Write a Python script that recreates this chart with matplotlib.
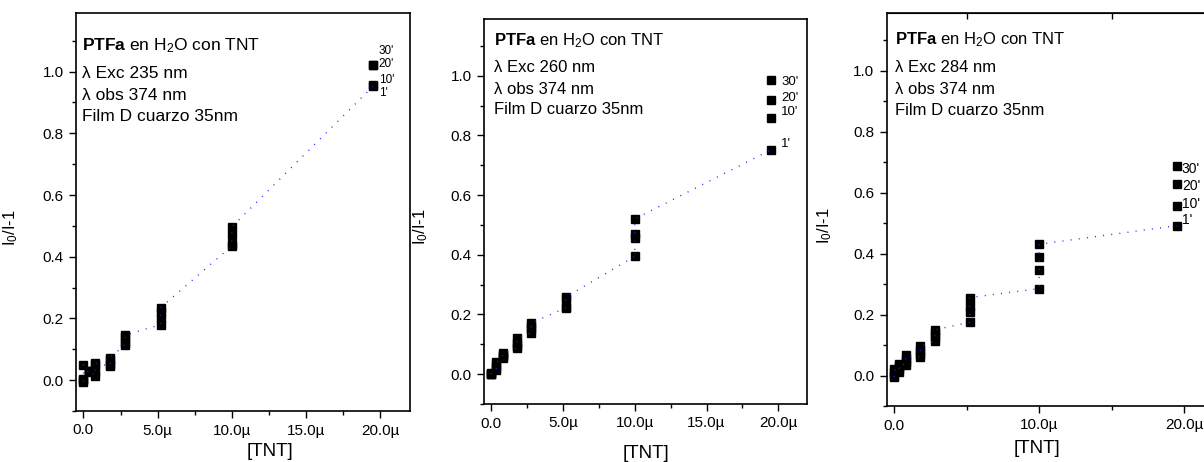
import numpy as np
import matplotlib
matplotlib.use("Agg")
import matplotlib.pyplot as plt
from matplotlib.ticker import FuncFormatter, MultipleLocator

plt.rcParams['font.family'] = ['Liberation Sans', 'DejaVu Sans']
plt.rcParams['mathtext.fontset'] = 'custom'
plt.rcParams['mathtext.rm'] = 'Liberation Sans'
plt.rcParams['mathtext.it'] = 'Liberation Sans:italic'
plt.rcParams['mathtext.bf'] = 'Liberation Sans:bold'

# [TNT] in micromolar
tnt = [0, 0.35, 0.8, 1.8, 2.8, 5.2, 10, 19.5]
times = ["1'", "10'", "20'", "30'"]

# lambda exc 235 nm
exc235_1 = [-0.005, 0.025, 0.015, 0.045, 0.115, 0.18, 0.435, 0.952]
exc235_10 = [0.0, 0.03, 0.025, 0.05, 0.12, 0.20, 0.44, 0.957]
exc235_20 = [0.005, 0.03, 0.05, 0.065, 0.14, 0.22, 0.47, 1.02]
exc235_30 = [0.05, 0.03, 0.055, 0.073, 0.146, 0.235, 0.497, 1.022]

# lambda exc 260 nm
exc260_1 = [0.0, 0.013, 0.054, 0.087, 0.139, 0.222, 0.395, 0.752]
exc260_10 = [0.0, 0.02, 0.06, 0.095, 0.15, 0.225, 0.455, 0.857]
exc260_20 = [0.002, 0.03, 0.065, 0.105, 0.16, 0.252, 0.47, 0.919]
exc260_30 = [0.005, 0.04, 0.071, 0.12, 0.172, 0.258, 0.52, 0.987]

# lambda exc 284 nm
exc284_1 = [-0.005, 0.012, 0.036, 0.06, 0.115, 0.175, 0.285, 0.492]
exc284_10 = [0.0, 0.02, 0.045, 0.07, 0.125, 0.21, 0.347, 0.557]
exc284_20 = [0.01, 0.03, 0.055, 0.085, 0.14, 0.228, 0.39, 0.63]
exc284_30 = [0.02, 0.037, 0.066, 0.096, 0.15, 0.256, 0.431, 0.689]


def fmt_tnt(v, pos):
    if abs(v) < 1e-9:
        return "0.0"
    return "%.1fµ" % v


def panel(ax, series, exc, major, label_off, xlab_pos, ylab_pos, text_y,
          ms=6, fs=12.5, lfs=8.5):
    for s in series:
        ax.plot(tnt, s, ls='none', marker='s', ms=ms, color='black',
                zorder=2)

    # dotted line running through every point, ordered by [TNT]
    vals = np.array(series)
    lx = list(np.repeat(tnt[:-1], 4)) + [tnt[-1]]
    ly = list(vals[:, :-1].T.ravel()) + [vals[0, -1]]
    ax.plot(lx, ly, color='#2020ff', lw=1.0, dashes=[0.7, 5.2], zorder=3)

    for t, s, (dx, dy) in zip(times, series, label_off):
        ax.annotate(t, (tnt[-1], s[-1]), xytext=(dx, dy),
                    textcoords='offset pixels', ha='left', va='center',
                    fontsize=lfs)

    ax.set_xlim(-0.5, 22)
    ax.set_ylim(-0.1, 1.19)
    ax.xaxis.set_major_locator(MultipleLocator(major))
    ax.xaxis.set_minor_locator(MultipleLocator(major / 2))
    ax.xaxis.set_major_formatter(FuncFormatter(fmt_tnt))
    ax.yaxis.set_major_locator(MultipleLocator(0.2))
    ax.yaxis.set_minor_locator(MultipleLocator(0.1))
    ax.yaxis.set_major_formatter(FuncFormatter(lambda v, p: "%.1f" % v))
    ax.tick_params(which='major', direction='out', length=5, width=1,
                   labelsize=11, pad=4)
    ax.tick_params(which='minor', direction='out', length=3, width=1)
    for sp in ax.spines.values():
        sp.set_linewidth(1.2)

    ax.set_xlabel("[TNT]", fontsize=13.5)
    ax.set_ylabel("I$_0$/I-1", fontsize=12)
    ax.xaxis.set_label_coords(*xlab_pos)
    ax.yaxis.set_label_coords(*ylab_pos)

    lines = [r"$\mathbf{PTFa}$ en H$_2$O con TNT",
             "λ Exc %d nm" % exc,
             "λ obs 374 nm",
             "Film D cuarzo 35nm"]
    for txt, y in zip(lines, text_y[1]):
        ax.text(text_y[0], y, txt, transform=ax.transAxes, fontsize=fs,
                ha='left', va='baseline')


fig = plt.figure(figsize=(12.04, 4.62), dpi=100)
W, H = 1204, 462

ax1 = fig.add_axes([76 / W, 51 / H, 334 / W, 398 / H])
panel(ax1, [exc235_1, exc235_10, exc235_20, exc235_30], 235, 5,
      [(6, -7), (6, 5), (6, 1), (6, 14)],
      (0.58, -0.08), (-0.168, 0.462),
      (0.018, [0.907, 0.837, 0.781, 0.729]), fs=12.5, lfs=8.5)

ax2 = fig.add_axes([484 / W, 58 / H, 323 / W, 385 / H])
panel(ax2, [exc260_1, exc260_10, exc260_20, exc260_30], 260, 5,
      [(10, 6), (10, 6), (10, 2), (10, -2)],
      (0.5, -0.106), (-0.167, 0.46),
      (0.031, [0.932, 0.862, 0.804, 0.752]), fs=12, lfs=9.5)

ax3 = fig.add_axes([887 / W, 56 / H, 326 / W, 393 / H])
panel(ax3, [exc284_1, exc284_10, exc284_20, exc284_30], 284, 10,
      [(5, 6), (5, 2), (5, -2), (5, -3)],
      (0.459, -0.087), (-0.163, 0.458),
      (0.025, [0.920, 0.849, 0.793, 0.740]), ms=5.2, fs=12, lfs=10)
top = ax3.secondary_xaxis('top')
top.set_xticks([5, 15])
top.set_xticklabels([])
top.tick_params(direction='in', length=4, width=1)

fig.savefig('out.png', dpi=100)
